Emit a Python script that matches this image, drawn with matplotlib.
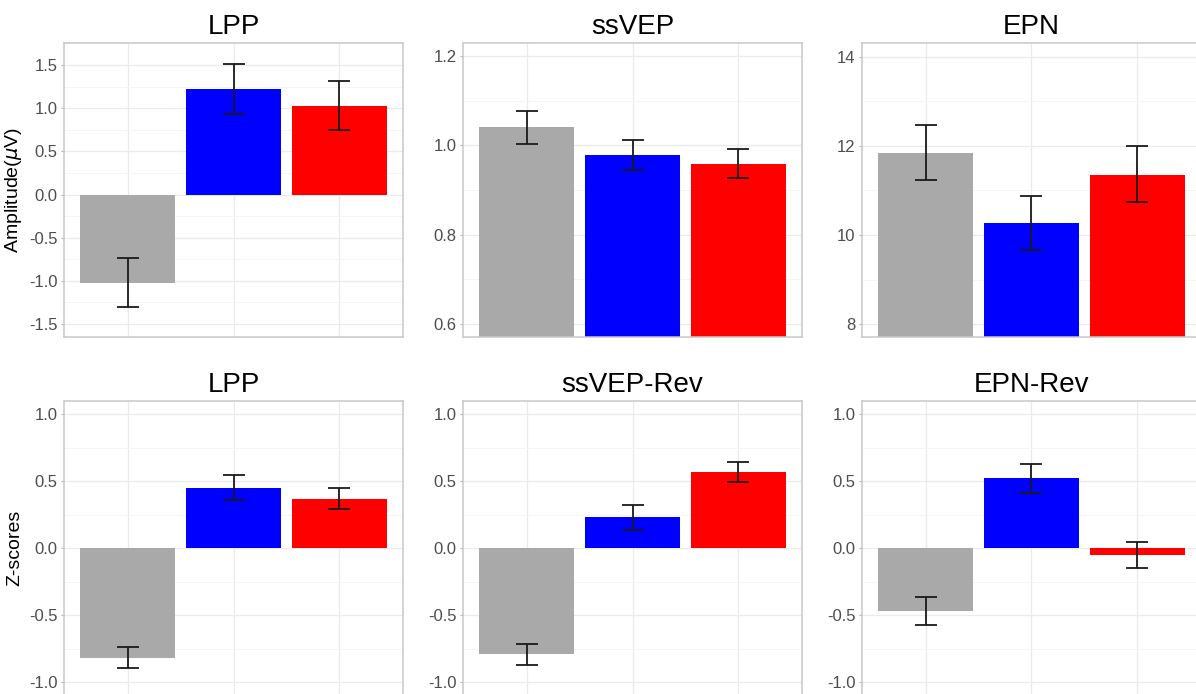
import matplotlib
matplotlib.use('Agg')
import matplotlib.pyplot as plt
from matplotlib.ticker import MultipleLocator, FormatStrFormatter
import numpy as np

plt.rcParams['font.family'] = ['Liberation Sans', 'DejaVu Sans']
plt.rcParams['axes.unicode_minus'] = False
plt.rcParams['mathtext.fontset'] = 'dejavusans'

# three conditions, shown only by colour (no x labels in the original)
conditions = ['cond1', 'cond2', 'cond3']
bar_colors = ['#A9A9A9', '#0000FF', '#FF0000']

# top row: amplitudes
top_titles = ['LPP', 'ssVEP', 'EPN']
lpp_amp = [-1.02, 1.22, 1.03]
lpp_amp_lo = [-1.30, 0.93, 0.75]
lpp_amp_hi = [-0.74, 1.51, 1.31]
ssvep_amp = [1.040, 0.979, 0.959]
ssvep_amp_lo = [1.004, 0.945, 0.926]
ssvep_amp_hi = [1.076, 1.013, 0.992]
epn_amp = [11.85, 10.27, 11.35]
epn_amp_lo = [11.23, 9.66, 10.74]
epn_amp_hi = [12.48, 10.88, 11.99]

# bottom row: z-scores
bottom_titles = ['LPP', 'ssVEP-Rev', 'EPN-Rev']
lpp_z = [-0.816, 0.452, 0.370]
lpp_z_lo = [-0.896, 0.357, 0.293]
lpp_z_hi = [-0.737, 0.543, 0.452]
ssvep_rev_z = [-0.788, 0.230, 0.565]
ssvep_rev_z_lo = [-0.872, 0.136, 0.491]
ssvep_rev_z_hi = [-0.714, 0.323, 0.644]
epn_rev_z = [-0.467, 0.521, -0.047]
epn_rev_z_lo = [-0.576, 0.414, -0.144]
epn_rev_z_hi = [-0.362, 0.628, 0.047]


def draw_panel(ax, title, vals, lo, hi, ylim, step, fmt):
    x = np.arange(1, len(conditions) + 1)
    vals = np.array(vals)
    yerr = [vals - np.array(lo), np.array(hi) - vals]
    ax.set_axisbelow(True)
    ax.bar(x, vals, width=0.9, color=bar_colors, zorder=2)
    ax.errorbar(x, vals, yerr=yerr, fmt='none', ecolor='#1a1a1a',
                elinewidth=1.3, capsize=7.6, capthick=1.3, zorder=3)
    ax.set_xlim(0.4, 3.6)
    ax.set_ylim(*ylim)
    ax.set_xticks(x)
    ax.set_xticklabels(['', '', ''])
    ax.tick_params(axis='x', length=0)
    ax.yaxis.set_major_locator(MultipleLocator(step))
    ax.yaxis.set_minor_locator(MultipleLocator(step / 2))
    ax.yaxis.set_major_formatter(FormatStrFormatter(fmt))
    ax.tick_params(axis='y', which='major', length=2.5, width=0.8,
                   color='#B3B3B3', labelsize=12, labelcolor='#4D4D4D', pad=2)
    ax.tick_params(axis='y', which='minor', length=0)
    ax.grid(True, which='major', color='#EBEBEB', lw=0.9)
    ax.grid(True, which='minor', axis='y', color='#F4F4F4', lw=0.6)
    for sp in ax.spines.values():
        sp.set_color('#C8C8C8')
        sp.set_linewidth(1.1)
    ax.set_title(title, fontsize=20, pad=6.5)


fig = plt.figure(figsize=(11.96, 6.94), dpi=100)

W, H = 1196.0, 694.0
lefts = [64, 463, 862]
pw = 339

top_data = [
    (lpp_amp, lpp_amp_lo, lpp_amp_hi, (-1.65, 1.755), 0.5, '%.1f'),
    (ssvep_amp, ssvep_amp_lo, ssvep_amp_hi, (0.571, 1.229), 0.2, '%.1f'),
    (epn_amp, epn_amp_lo, epn_amp_hi, (7.71, 14.31), 2, '%d'),
]
bottom_data = [
    (lpp_z, lpp_z_lo, lpp_z_hi),
    (ssvep_rev_z, ssvep_rev_z_lo, ssvep_rev_z_hi),
    (epn_rev_z, epn_rev_z_lo, epn_rev_z_hi),
]

for i in range(3):
    ax = fig.add_axes([lefts[i] / W, 1 - 337 / H, pw / W, 294 / H])
    vals, lo, hi, ylim, step, fmt = top_data[i]
    draw_panel(ax, top_titles[i], vals, lo, hi, ylim, step, fmt)
    if i == 0:
        ax.set_ylabel(r'Amplitude($\mu$V)', fontsize=14, labelpad=4)

    ax = fig.add_axes([lefts[i] / W, 1 - 695.7 / H, pw / W, 295 / H])
    vals, lo, hi = bottom_data[i]
    draw_panel(ax, bottom_titles[i], vals, lo, hi, (-1.1, 1.1), 0.5, '%.1f')
    if i == 0:
        ax.set_ylabel('Z-scores', fontsize=14, labelpad=4)

fig.savefig('out.png', dpi=100)
